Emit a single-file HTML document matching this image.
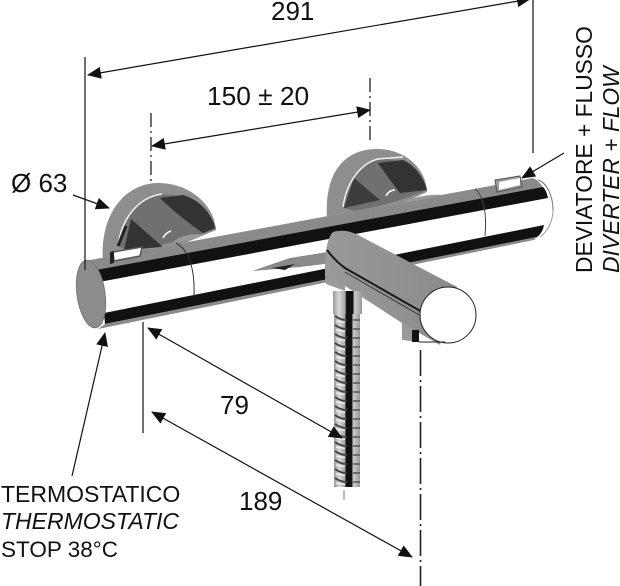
<!DOCTYPE html>
<html>
<head>
<meta charset="utf-8">
<style>
html,body{margin:0;padding:0;background:#fff;width:620px;height:586px;overflow:hidden}
svg{display:block}
text{font-family:"Liberation Sans",sans-serif;fill:#111}
</style>
</head>
<body>
<svg width="620" height="586" viewBox="0 0 620 586" xmlns="http://www.w3.org/2000/svg">
<defs>
<marker id="a" viewBox="0 0 14 12" refX="13" refY="6" markerWidth="14" markerHeight="12" markerUnits="userSpaceOnUse" orient="auto-start-reverse"><path d="M0 0L14 6L0 12z" fill="#111"/></marker>
<linearGradient id="hose" x1="0" x2="1" y1="0" y2="0">
<stop offset="0" stop-color="#999"/><stop offset=".2" stop-color="#d8d8d8"/><stop offset=".42" stop-color="#a5a5a5"/><stop offset=".46" stop-color="#111"/><stop offset=".68" stop-color="#111"/><stop offset=".74" stop-color="#ccc"/><stop offset="1" stop-color="#999"/>
</linearGradient>
<linearGradient id="spout" x1="0" x2="1" y1="0" y2="0"><stop offset="0" stop-color="#9a9a9a"/><stop offset="1" stop-color="#8a8a8a"/></linearGradient>
<pattern id="ribs" patternUnits="userSpaceOnUse" x="334" y="314" width="27" height="9">
<path d="M1 2C5 5 9 6 13 6" fill="none" stroke="#444" stroke-width="2"/>
<path d="M19 6L26 6" fill="none" stroke="#555" stroke-width="1.500"/>
<path d="M2 7L11 8.500" fill="none" stroke="#f4f4f4" stroke-width="1.200"/>
</pattern>
</defs>

<!-- wall plate left -->
<path d="M103 262C99 215 125 183 158 183C190 183 214 205 216 230L180 245L120 262z" fill="#8e8e8e"/>
<path d="M118 246C122 216 140 197 160 195C183 192 210 205 216 229L190 238L130 252z" fill="#707070"/>
<path d="M160 198L183 195C200 200 212 214 215 228L203 233C187 222 172 210 160 198z" fill="#333"/>
<path d="M131 219L163 247L124 250z" fill="#333"/>
<path d="M118 246C122 216 140 197 162 194" fill="none" stroke="#f0f0f0" stroke-width="1.500"/>
<path d="M118 246L126 226" fill="none" stroke="#222" stroke-width="3"/>
<path d="M163 238C165 234 168 232 171 231" fill="none" stroke="#fff" stroke-width="1.500"/>
<!-- wall plate right -->
<path d="M327 218C324 172 345 149 377 149C405 149 426 168 427 192L400 204L345 216z" fill="#8e8e8e"/>
<path d="M343 208C347 180 362 163 378 160C395 156 420 165 427 190L400 200L360 212z" fill="#707070"/>
<path d="M378 163L403 160C415 165 424 178 427 190L400 193C392 183 385 173 378 163z" fill="#333"/>
<path d="M354 178L380 200L344 208z" fill="#3c3c3c"/>
<path d="M343 207C347 180 362 163 378 159L403 157" fill="none" stroke="#f0f0f0" stroke-width="1.500"/>
<path d="M386 196C388 192 391 190 395 190" fill="none" stroke="#fff" stroke-width="1.500"/>

<!-- main bar -->
<path d="M85 261L533 178C546 180 553 195 553 210C553 222 547 232 540 237L98 328C86 326 77 312 77 294C77 276 80 264 85 261z" fill="#fff"/>
<path d="M85 261L533 178C538 180 541 184 543 188L96 270C93 265 89 262 85 261z" fill="#8a8a8a"/>
<path d="M96 270L543 187C546 190 547 194 548 198L99 282z" fill="#111"/>
<path d="M104 313L544 225C543 230 541 234 537 237L105 324z" fill="#111"/>
<path d="M105 324L537 237L534 240L98 329z" fill="#8a8a8a"/>
<path d="M553 210C553 195 546 182 538 180" fill="none" stroke="#777" stroke-width="1"/>
<path d="M553 210C553 222 547 232 540 237" fill="none" stroke="#999" stroke-width="1"/>
<path d="M172 243C180 235 195 233 204 235L176 243z" fill="#9a9a9a"/>
<path d="M403 203C412 197 430 194 442 195L410 202z" fill="#9a9a9a"/>
<ellipse cx="91" cy="294" rx="14" ry="34" transform="rotate(-8 91 294)" fill="#8c8c8c" stroke="#777" stroke-width="1"/>
<!-- seams -->
<path d="M176 243C190 250 195 272 194 296" fill="none" stroke="#333" stroke-width="1"/>
<path d="M475 189C484 196 487 215 485 236" fill="none" stroke="#444" stroke-width="1"/>
<!-- small levers -->
<path d="M113 252L142 247L140 256L114 261z" fill="#fff" stroke="#555" stroke-width="1.500"/>
<path d="M110 252L110 264L114 263L114 251z" fill="#222"/>
<path d="M495 180L520 176L522 187L497 192z" fill="#9a9a9a" stroke="#555" stroke-width="1"/>
<path d="M499 182L520 178L520 185L499 190z" fill="#fff"/>
<!-- wing -->
<path d="M252 271L290 258L340 250L340 262L300 267z" fill="#8a8a8a"/>
<path d="M272 268L295 264L285 270z" fill="#222"/>

<!-- spout -->
<path d="M333 232C344 229 352 232 360 236L457 287L440 345L402 323L345 286L325 277C325 262 325 240 333 232z" fill="url(#spout)"/>
<path d="M327 250C333 258 338 263 345 268L422 312" fill="none" stroke="#1a1a1a" stroke-width="2"/>
<path d="M345 272L421 316" fill="none" stroke="#333" stroke-width="1"/>
<path d="M325 277L345 285L345 291L326 284z" fill="#9a9a9a"/>
<path d="M402 322L419 332L419 342L402 340z" fill="#9a9a9a"/>
<rect x="412" y="330" width="7" height="12" fill="#111"/>
<ellipse cx="448" cy="315" rx="28" ry="28" fill="#fff" stroke="#222" stroke-width="1"/>
<path d="M419 342H445" stroke="#222" stroke-width="1"/>

<!-- hose -->
<rect x="333" y="291" width="29" height="23" fill="url(#hose)"/>
<rect x="334" y="314" width="26" height="173" fill="url(#hose)"/>
<rect x="334" y="314" width="26" height="173" fill="url(#ribs)"/>
<path d="M344 490V500" stroke="#777" stroke-width="1"/>

<!-- extension lines -->
<g stroke="#222" stroke-width="1.300" fill="none">
<path d="M85 57V270"/>
<path d="M533 0V153"/>
<path d="M143 322V433"/>
<path d="M151 113V183" stroke-dasharray="14 4 2 4"/>
<path d="M370 78V143" stroke-dasharray="14 4 2 4"/>
<path d="M420.500 350V586" stroke-dasharray="26 4 2 4" stroke-width="1.600"/>
</g>

<!-- dimension arrows -->
<g stroke="#111" stroke-width="1.200" fill="none">
<path d="M88 75L530 -1" marker-start="url(#a)" marker-end="url(#a)"/>
<path d="M152 146L370 110" marker-start="url(#a)" marker-end="url(#a)"/>
<path d="M73 195L109 208" marker-end="url(#a)"/>
<path d="M564 153L522 178" marker-end="url(#a)"/>
<path d="M72 476L105 333" marker-end="url(#a)"/>
<path d="M148 328L342 438" marker-start="url(#a)" marker-end="url(#a)"/>
<path d="M152 412L412 557" marker-start="url(#a)" marker-end="url(#a)"/>
</g>

<!-- labels -->
<text x="271" y="20" font-size="26">291</text>
<text x="207" y="105" font-size="26.300">150 ± 20</text>
<text x="11" y="192" font-size="26">Ø 63</text>
<text x="220" y="414" font-size="26">79</text>
<text x="239" y="510" font-size="26">189</text>
<text x="1" y="502" font-size="23">TERMOSTATICO</text>
<text x="1" y="529" font-size="23" font-style="italic">THERMOSTATIC</text>
<text x="1" y="557" font-size="22.500">STOP 38°C</text>
<text transform="translate(592 273) rotate(-90)" font-size="22.800">DEVIATORE + FLUSSO</text>
<text transform="translate(619 273) rotate(-90)" font-size="22.800" font-style="italic">DIVERTER + FLOW</text>
</svg>
</body>
</html>
